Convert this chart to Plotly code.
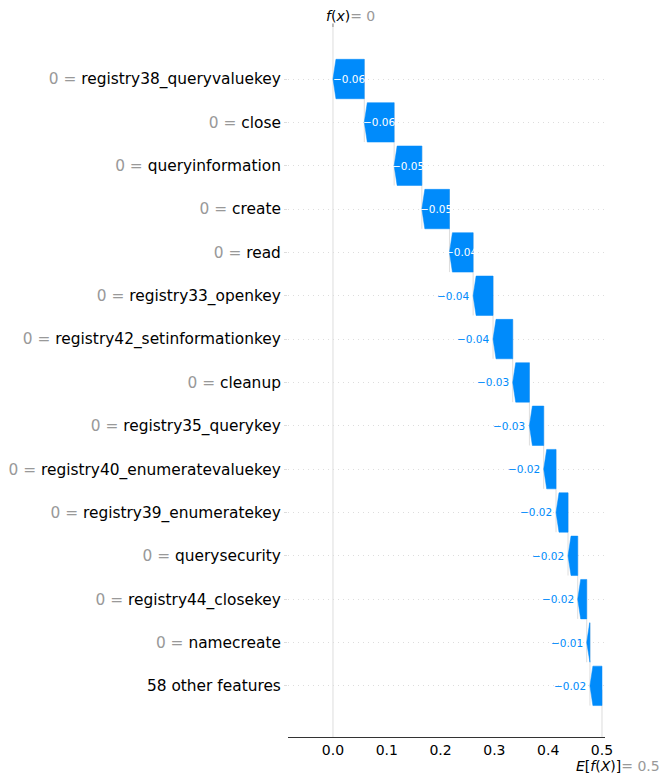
import plotly.graph_objects as go

# ---------------- data ----------------
features = [
    "registry38_queryvaluekey", "close", "queryinformation", "create", "read",
    "registry33_openkey", "registry42_setinformationkey", "cleanup",
    "registry35_querykey", "registry40_enumeratevaluekey",
    "registry39_enumeratekey", "querysecurity", "registry44_closekey",
    "namecreate", "58 other features",
]
feature_values = ["0"] * 14 + [""]
shap_values = [
    -0.0582, -0.0555, -0.0515, -0.0513, -0.0440,
    -0.0370, -0.0366, -0.0310, -0.0266, -0.0229,
    -0.0223, -0.0180, -0.0167, -0.0060, -0.0224,
]
base_value = 0.5
x_ticks = [0.0, 0.1, 0.2, 0.3, 0.4, 0.5]

# ---------------- derived ----------------
BLUE = "#008bfb"
FONT = "DejaVu Sans"
n = len(features)
ys = [n - 1 - i for i in range(n)]
starts = [0.0] * n
ends = [0.0] * n
cur = base_value
for i in range(n - 1, -1, -1):
    starts[i] = cur
    cur = cur + shap_values[i]
    ends[i] = cur
fx = cur

H = 0.455      # half bar height (y units)
HL = 0.0055    # arrow head length (x units)

px, py = [], []
for i in range(n):
    s, e, y = starts[i], ends[i], ys[i]
    hl = min(abs(s - e), HL)
    px += [s, e + hl, e, e + hl, s, s, None]
    py += [y + H, y + H, y, y - H, y - H, y + H, None]

fig = go.Figure()
fig.add_trace(go.Scatter(
    x=px, y=py, mode="lines", fill="toself", fillcolor=BLUE,
    line=dict(width=0.5, color=BLUE), hoverinfo="skip", showlegend=False,
))

def fmt(v):
    return f"{v:.2f}".replace("-", "\u2212")

annotations = []
for i in range(n):
    s, e, y = starts[i], ends[i], ys[i]
    if abs(s - e) > 0.04:
        annotations.append(dict(
            x=(s + e) / 2, y=y, xref="x", yref="y", text=fmt(shap_values[i]),
            showarrow=False, xanchor="center", yanchor="middle",
            font=dict(family=FONT, size=10.5, color="#ffffff"),
        ))
    else:
        annotations.append(dict(
            x=e, y=y, xref="x", yref="y", text=fmt(shap_values[i]),
            showarrow=False, xanchor="right", yanchor="middle", xshift=-2,
            font=dict(family=FONT, size=10.5, color=BLUE),
        ))

fx_txt = f"{round(fx, 3) + 0:g}"
annotations.append(dict(
    x=fx, y=1.0155, xref="x", yref="paper", showarrow=False,
    xanchor="left", yanchor="middle", xshift=-9,
    text="<i>f</i>(<i>x</i>)<span style='color:#999999'>= " + fx_txt + "</span>",
    font=dict(family=FONT, size=14, color="#000000"),
))
annotations.append(dict(
    x=base_value, y=-0.041, xref="x", yref="paper", showarrow=False,
    xanchor="right", yanchor="middle", xshift=60,
    text="<i>E</i>[<i>f</i>(<i>X</i>)]<span style='color:#999999'>= " + f"{base_value:g}" + "</span>",
    font=dict(family=FONT, size=14, color="#000000"),
))

shapes = []
LINE_GREY = "#dddddd"
# connector lines between consecutive arrows
for i in range(n - 1):
    loc = starts[i]
    shapes.append(dict(
        type="line", xref="x", yref="y", x0=loc, x1=loc,
        y0=ys[i + 1] - H, y1=ys[i] + H,
        line=dict(color=LINE_GREY, width=1), layer="below",
    ))
# f(x) line and base line
shapes.append(dict(type="line", xref="x", yref="paper", x0=fx, x1=fx, y0=0, y1=1,
                   line=dict(color=LINE_GREY, width=1), layer="below"))
shapes.append(dict(type="line", xref="x", yref="paper", x0=base_value, x1=base_value,
                   y0=0, y1=1.0 / n,
                   line=dict(color=LINE_GREY, width=1), layer="below"))
# small top tick at f(x)
shapes.append(dict(type="line", xref="x", yref="paper", x0=fx, x1=fx, y0=1.0, y1=1.005,
                   line=dict(color="#777777", width=1)))

ticktext = []
for f, v in zip(features, feature_values):
    if v == "":
        ticktext.append(f)
    else:
        ticktext.append(f"<span style='color:#999999'>{v} = </span>{f}")

fig.update_layout(
    width=663, height=777,
    margin=dict(l=288, r=58, t=27, b=40),
    plot_bgcolor="white", paper_bgcolor="white",
    font=dict(family=FONT, size=14, color="#000000"),
    showlegend=False,
    annotations=annotations,
    shapes=shapes,
    xaxis=dict(
        range=[-0.0836, 0.5056], tickvals=x_ticks,
        ticktext=[f"{t:.1f}" for t in x_ticks],
        showgrid=False, zeroline=False, showline=True,
        linecolor="#333333", linewidth=1, ticks="",
        tickfont=dict(family=FONT, size=14, color="#000000"),
        fixedrange=True,
    ),
    yaxis=dict(
        range=[-1.18, 15.2], tickvals=ys, ticktext=ticktext,
        showgrid=True, gridcolor="#dddddd", gridwidth=1, griddash="1px,4px",
        zeroline=False, showline=False,
        ticks="outside", ticklen=3, tickcolor="#dddddd",
        tickfont=dict(family=FONT, size=15.4, color="#000000"),
        automargin=False,
        fixedrange=True,
    ),
)

fig.write_html(
    "out.html",
    config={"displayModeBar": False},
    post_script="document.body.style.margin='0';document.body.style.overflow='hidden';",
)
